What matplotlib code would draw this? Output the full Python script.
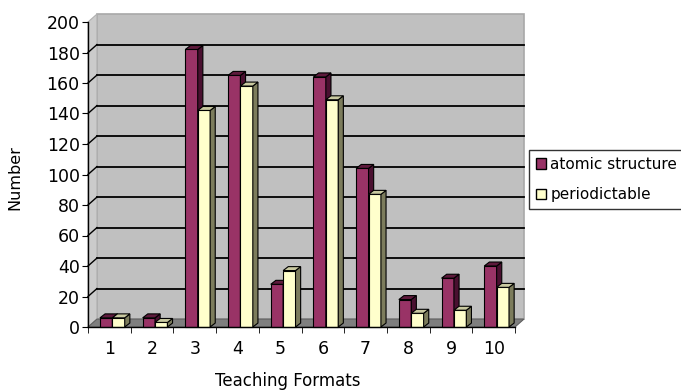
import matplotlib.pyplot as plt
import numpy as np
from matplotlib.patches import Polygon, Patch

formats = np.arange(1, 11)
atomic = [6, 6, 182, 165, 28, 164, 104, 18, 32, 40]
periodic = [6, 3, 142, 158, 37, 149, 87, 9, 11, 26]
yticks = np.arange(0, 201, 20)

# depth of the wall and of the bars, in data units
DX, DY = 0.21, 5.2
bx, by = 0.12, 2.6
w = 0.29

fig = plt.figure(figsize=(6.81, 3.90), dpi=100)
ax = fig.add_axes([88/681, 63/390, 427/681, 305/390])
ax.set_xlim(0.5, 10.5)
ax.set_ylim(0, 200)
ax.patch.set_visible(False)

def poly(pts, fc, ec='none', lw=0.8, z=1):
    ax.add_patch(Polygon(pts, closed=True, facecolor=fc, edgecolor=ec,
                         linewidth=lw, zorder=z, clip_on=False))

# walls and floor
poly([(0.5+DX, DY), (10.5+DX, DY), (10.5+DX, 200+DY), (0.5+DX, 200+DY)],
     '#c0c0c0', '#a8a8a8', 1.2, 0)
poly([(0.5, 0), (0.5+DX, DY), (0.5+DX, 200+DY), (0.5, 200)], '#cbcbcb', '#b0b0b0', 0.8, 0)
poly([(0.5, 0), (10.5, 0), (10.5+DX, DY), (0.5+DX, DY)], '#7f7f7f', '#606060', 0.8, 0.5)

for v in yticks[1:-1]:
    ax.plot([0.5+DX, 10.5+DX], [v+DY, v+DY], color='black', lw=1.3, zorder=0.6, clip_on=False)
    ax.plot([0.5, 0.5+DX], [v, v+DY], color='black', lw=1.0, zorder=0.6, clip_on=False)

def bar3d(x0, h, front, side, top):
    poly([(x0, 0), (x0+w, 0), (x0+w, h), (x0, h)], front, 'black', 0.8, 2)
    poly([(x0+w, 0), (x0+w+bx, by), (x0+w+bx, h+by), (x0+w, h)], side, 'black', 0.8, 2)
    poly([(x0, h), (x0+w, h), (x0+w+bx, h+by), (x0+bx, h+by)], top, 'black', 0.8, 2)

for x, a, p in zip(formats, atomic, periodic):
    bar3d(x - w + 0.07, a, '#993366', '#4a1030', '#5e1a3c')
    bar3d(x + 0.07, p, '#ffffcc', '#7c7c5c', '#c9c9a0')

for s in ['top', 'right']:
    ax.spines[s].set_visible(False)
ax.spines['left'].set_linewidth(1.0)
ax.spines['bottom'].set_linewidth(1.0)

ax.set_yticks(yticks)
ax.tick_params(axis='y', direction='out', length=4, labelsize=12.5, pad=2)
ax.set_xticks(formats)
ax.set_xticks(np.arange(0.5, 11, 1), minor=True)
ax.tick_params(axis='x', which='major', length=0, labelsize=12.5, pad=9)
ax.tick_params(axis='x', which='minor', direction='out', length=4)

fig.text(288/681, 1 - 381/390, 'Teaching Formats', fontsize=12, ha='center', va='center')
fig.text(15/681, 1 - 178/390, 'Number', fontsize=11.5, rotation=90, ha='center', va='center')

handles = [Patch(facecolor='#993366', edgecolor='black', label='atomic structure'),
           Patch(facecolor='#ffffcc', edgecolor='black', label='periodictable')]
fig.legend(handles=handles, loc='lower left', bbox_to_anchor=(529/681, 1 - 209/390),
           fontsize=11, frameon=True, fancybox=False, edgecolor='black',
           handlelength=0.65, handleheight=0.65, handletextpad=0.3,
           borderpad=0.45, labelspacing=1.0, borderaxespad=0)

fig.savefig('out.png', dpi=100)
